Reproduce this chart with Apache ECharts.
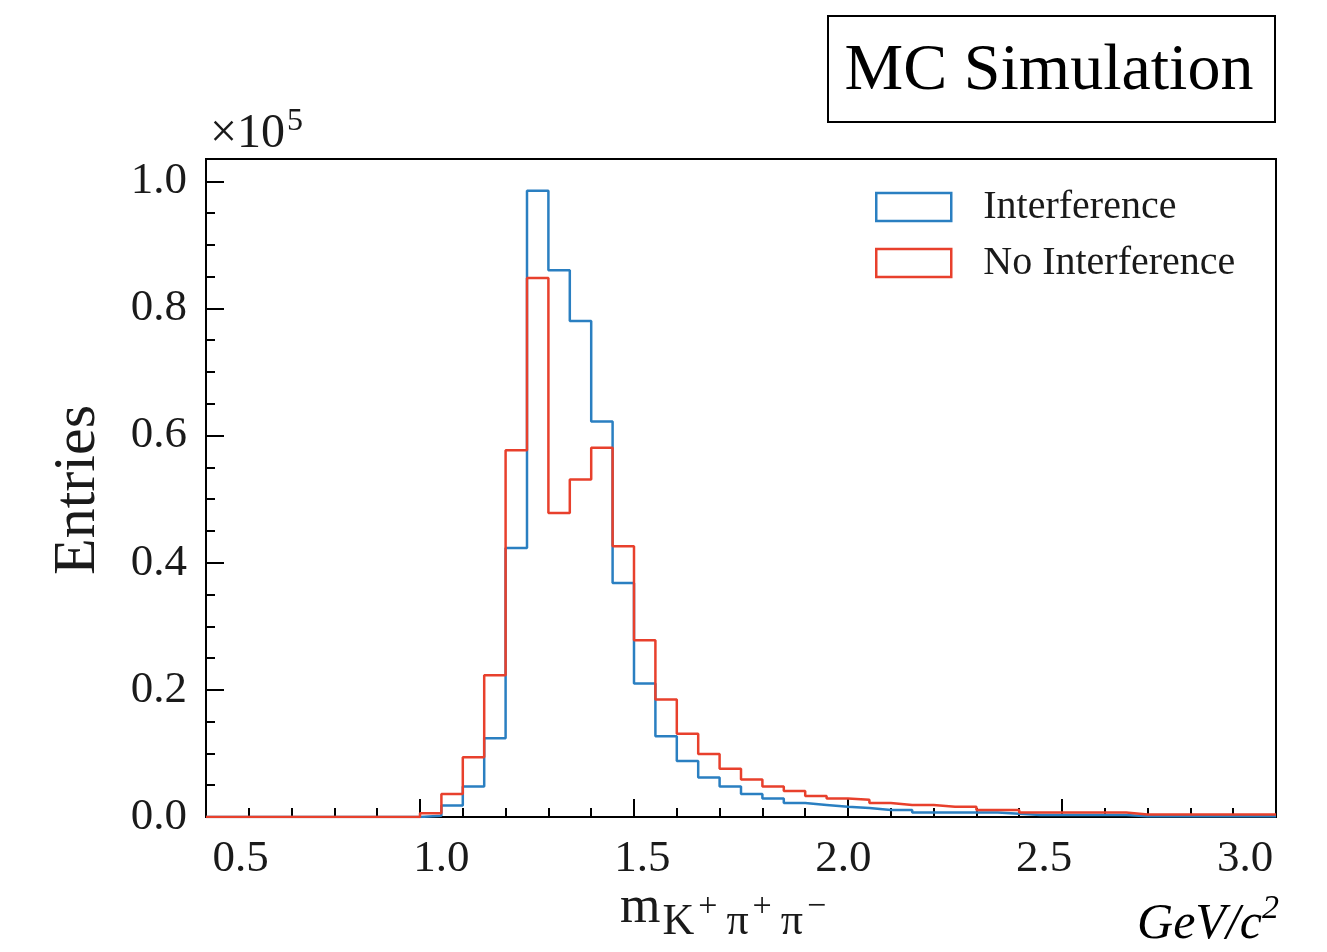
<!DOCTYPE html>
<html><head><meta charset="utf-8">
<script src="https://cdn.jsdelivr.net/npm/echarts@6/dist/echarts.min.js"></script>
<style>html,body{margin:0;padding:0;background:#fff}#c{width:1327px;height:952px}</style>
</head><body><div id="c"></div>
<script>
// x range of the histogram (in the units of the printed tick labels) and bin count
const X_MIN = 0.414, X_MAX = 3.077, N_BINS = 50;
const xTickLabels = [0.5, 1.0, 1.5, 2.0, 2.5, 3.0];
const yTickLabels = [0, 20000, 40000, 60000, 80000, 100000];
const seriesNames = ['Interference', 'No Interference'];
// entries per bin (50 bins)
const interference = [
  0, 0, 0, 0, 0, 0, 0, 0, 0, 0,
  200, 1800, 4800, 12400, 42300, 98500, 86000, 78000, 62200, 36800,
  21000, 12700, 8800, 6200, 4800, 3600, 2900, 2200, 1900, 1600,
  1400, 1100, 1100, 700, 700, 700, 700, 500, 300, 300,
  300, 300, 300, 100, 100, 100, 100, 100, 100, 100
];
const noInterference = [
  0, 0, 0, 0, 0, 0, 0, 0, 0, 0,
  600, 3600, 9400, 22300, 57700, 84800, 47800, 53100, 58100, 42600,
  27800, 18500, 13100, 9900, 7600, 5900, 4800, 4100, 3300, 2900,
  2700, 2200, 1900, 1900, 1600, 1600, 1100, 1100, 700, 700,
  700, 700, 700, 400, 400, 400, 400, 400, 400, 400
];

const BLUE = '#2a7fc1', RED = '#e8402c';
const SERIF = '"Liberation Serif", "DejaVu Serif", serif';
const Y_MAX = 103500;

const bw = (X_MAX - X_MIN) / N_BINS;
const edges = [];
for (let i = 0; i <= N_BINS; i++) edges.push(X_MIN + i * bw);
function stepData(vals) {
  return edges.map((e, i) => [e, vals[Math.min(i, vals.length - 1)]]);
}
// tick marks sit on every 2nd bin edge; long ones every 10th
const majorX = [], minorX = [];
for (let i = 2; i < N_BINS; i += 2) (i % 10 === 0 ? majorX : minorX).push(edges[i]);
const minorY = [];
for (let v = 5000; v < Y_MAX; v += 5000) if (v % 20000 !== 0) minorY.push(v);

const chart = echarts.init(document.getElementById('c'), null, {renderer: 'canvas'});
const tickLine = {color: '#000', width: 2};
const gridPos = {left: 206, right: 51, top: 159, bottom: 135};
chart.setOption({
  backgroundColor: '#fff',
  animation: false,
  grid: [
    Object.assign({show: true, borderColor: '#000', borderWidth: 2, backgroundColor: 'transparent'}, gridPos),
    Object.assign({show: false}, gridPos)
  ],
  xAxis: [
    {type: 'value', gridIndex: 0, min: X_MIN, max: X_MAX,
     axisLine: {show: true, onZero: false, lineStyle: tickLine},
     axisTick: {show: true, inside: true, length: 18, customValues: majorX, lineStyle: tickLine},
     axisLabel: {customValues: xTickLabels, formatter: v => v.toFixed(1), fontFamily: SERIF, fontSize: 45, color: '#1a1a1a', margin: 20},
     splitLine: {show: false}},
    {type: 'value', gridIndex: 1, min: X_MIN, max: X_MAX,
     axisLine: {show: false}, axisLabel: {show: false}, splitLine: {show: false},
     axisTick: {show: true, inside: true, length: 9, customValues: minorX, lineStyle: tickLine}}
  ],
  yAxis: [
    {type: 'value', gridIndex: 0, min: 0, max: Y_MAX,
     axisLine: {show: true, onZero: false, lineStyle: tickLine},
     axisTick: {show: true, inside: true, length: 18, customValues: yTickLabels, lineStyle: tickLine},
     axisLabel: {customValues: yTickLabels, formatter: v => (v / 1e5).toFixed(1), fontFamily: SERIF, fontSize: 45, color: '#1a1a1a', margin: 19},
     splitLine: {show: false}},
    {type: 'value', gridIndex: 1, min: 0, max: Y_MAX,
     axisLine: {show: false}, axisLabel: {show: false}, splitLine: {show: false},
     axisTick: {show: true, inside: true, length: 9, customValues: minorY, lineStyle: tickLine}}
  ],
  legend: {
    left: 875, top: 187, orient: 'vertical', padding: 0,
    itemWidth: 75, itemHeight: 28, itemGap: 16,
    textStyle: {fontFamily: SERIF, fontSize: 40, color: '#1a1a1a', padding: [0, 0, 0, 27]},
    data: [
      {name: seriesNames[0], icon: 'rect', itemStyle: {color: 'rgba(255,255,255,0)', borderColor: BLUE, borderWidth: 2.5}},
      {name: seriesNames[1], icon: 'rect', itemStyle: {color: 'rgba(255,255,255,0)', borderColor: RED, borderWidth: 2.5}}
    ]
  },
  series: [
    {name: seriesNames[0], type: 'line', step: 'end', xAxisIndex: 0, yAxisIndex: 0,
     showSymbol: false, color: BLUE, lineStyle: {color: BLUE, width: 2.5}, data: stepData(interference), z: 3},
    {name: seriesNames[1], type: 'line', step: 'end', xAxisIndex: 0, yAxisIndex: 0,
     showSymbol: false, color: RED, lineStyle: {color: RED, width: 2.5}, data: stepData(noInterference), z: 4}
  ],
  graphic: [
    {type: 'rect', shape: {x: 828, y: 16, width: 447, height: 106}, style: {fill: 'none', stroke: '#000', lineWidth: 2}},
    {type: 'text', x: 1049, y: 72, style: {text: 'MC Simulation', font: '66px ' + SERIF, fill: '#000', align: 'center', verticalAlign: 'middle'}},
    {type: 'text', x: 210, y: 158, style: {
      text: '{a|×10}{b|5}', verticalAlign: 'bottom', align: 'left',
      rich: {a: {font: '48px ' + SERIF, fill: '#1a1a1a', verticalAlign: 'bottom'},
             b: {font: '32px ' + SERIF, fill: '#1a1a1a', verticalAlign: 'bottom', padding: [0, 0, 20, 2]}}}},
    {type: 'text', x: 78, y: 490, rotation: Math.PI / 2, style: {text: 'Entries', font: '60px ' + SERIF, fill: '#1a1a1a', align: 'center', verticalAlign: 'middle'}},
    {type: 'text', x: 620, y: 944, style: {
      text: '{m|m}{s|K}{p|+}{s|π}{p|+}{s|π}{p|−}', verticalAlign: 'bottom', align: 'left',
      rich: {m: {font: '52px ' + SERIF, fill: '#1a1a1a', verticalAlign: 'bottom', padding: [0, 2, 10, 0]},
             s: {font: '44px ' + SERIF, fill: '#1a1a1a', verticalAlign: 'bottom', padding: [0, 2, 0, 0]},
             p: {font: '34px ' + SERIF, fill: '#1a1a1a', verticalAlign: 'bottom', padding: [0, 9, 20, 2]}}}},
    {type: 'text', x: 1262, y: 950, style: {text: 'GeV/c', font: 'italic 50px ' + SERIF, fill: '#000', align: 'right', verticalAlign: 'bottom'}, z: 10},
    {type: 'text', x: 1262, y: 926, style: {text: '2', font: 'italic 34px ' + SERIF, fill: '#000', align: 'left', verticalAlign: 'bottom'}, z: 10}
  ]
});
</script></body></html>
